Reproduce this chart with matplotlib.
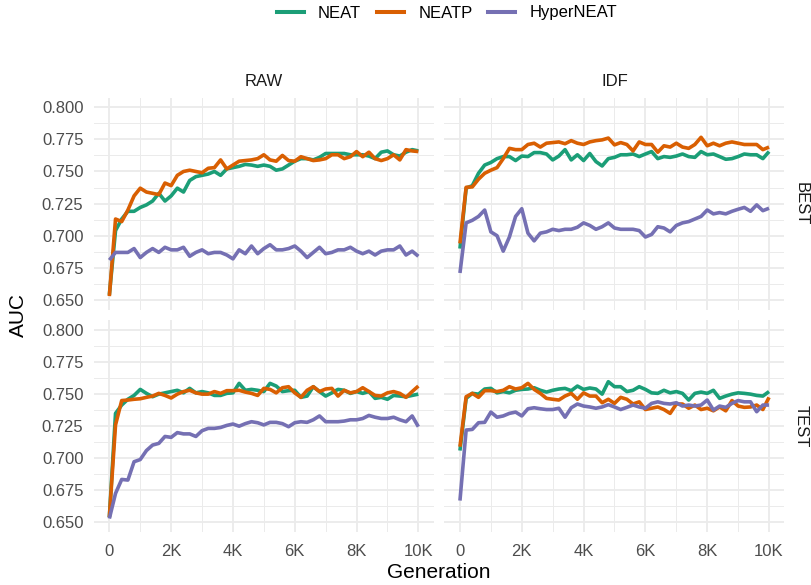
import matplotlib
matplotlib.use("Agg")
import matplotlib.pyplot as plt
from matplotlib.ticker import MultipleLocator, FuncFormatter
from matplotlib.lines import Line2D

plt.rcParams['font.family'] = ['Liberation Sans', 'DejaVu Sans']

generation = list(range(0, 10001, 200))
methods = ["NEAT", "NEATP", "HyperNEAT"]
colors = ["#1B9E77", "#D95F02", "#7570B3"]
columns = ["RAW", "IDF"]
rows = ["BEST", "TEST"]

raw_best_neat = [
    0.654, 0.704, 0.713, 0.719, 0.719, 0.722, 0.724, 0.727, 0.733, 0.727,
    0.731, 0.737, 0.734, 0.743, 0.746, 0.747, 0.748, 0.750, 0.747, 0.752,
    0.753, 0.754, 0.7555, 0.755, 0.754, 0.755, 0.754, 0.751, 0.752, 0.755,
    0.758, 0.760, 0.760, 0.759, 0.761, 0.764, 0.764, 0.764, 0.764, 0.763,
    0.763, 0.763, 0.762, 0.760, 0.765, 0.766, 0.763, 0.762, 0.765, 0.767,
    0.766]
raw_best_neatp = [
    0.653, 0.713, 0.711, 0.720, 0.731, 0.737, 0.734, 0.733, 0.732, 0.741,
    0.739, 0.747, 0.750, 0.751, 0.750, 0.749, 0.7525, 0.753, 0.759, 0.752,
    0.755, 0.758, 0.7585, 0.759, 0.760, 0.763, 0.759, 0.758, 0.7625, 0.7585,
    0.758, 0.7615, 0.760, 0.7585, 0.759, 0.760, 0.763, 0.763, 0.760, 0.7615,
    0.7655, 0.7615, 0.765, 0.760, 0.7585, 0.760, 0.763, 0.759, 0.767, 0.766,
    0.7655]
raw_best_hyper = [
    0.681, 0.687, 0.687, 0.687, 0.690, 0.683, 0.687, 0.690, 0.687, 0.691,
    0.689, 0.689, 0.691, 0.684, 0.687, 0.689, 0.686, 0.687, 0.687, 0.685,
    0.682, 0.689, 0.686, 0.692, 0.686, 0.690, 0.693, 0.689, 0.689, 0.690,
    0.692, 0.688, 0.683, 0.687, 0.691, 0.686, 0.687, 0.689, 0.689, 0.691,
    0.688, 0.686, 0.688, 0.685, 0.688, 0.689, 0.689, 0.692, 0.685, 0.688,
    0.684]

idf_best_neat = [
    0.690, 0.737, 0.739, 0.7486, 0.755, 0.757, 0.760, 0.7616, 0.7616, 0.7585,
    0.762, 0.7616, 0.7647, 0.7647, 0.7636, 0.759, 0.762, 0.767, 0.759, 0.763,
    0.7585, 0.764, 0.7577, 0.7543, 0.760, 0.761, 0.763, 0.763, 0.7636, 0.7616,
    0.7636, 0.7655, 0.760, 0.7616, 0.761, 0.762, 0.7636, 0.7616, 0.761, 0.7655,
    0.763, 0.7636, 0.7616, 0.7595, 0.760, 0.7616, 0.7636, 0.763, 0.763, 0.760,
    0.7655]
idf_best_neatp = [
    0.694, 0.7377, 0.738, 0.744, 0.7486, 0.751, 0.753, 0.760, 0.768, 0.767,
    0.767, 0.771, 0.772, 0.769, 0.772, 0.7725, 0.773, 0.7716, 0.774, 0.772,
    0.771, 0.773, 0.774, 0.7746, 0.776, 0.7707, 0.7725, 0.771, 0.766, 0.773,
    0.771, 0.771, 0.765, 0.770, 0.769, 0.772, 0.769, 0.768, 0.771, 0.7766,
    0.770, 0.772, 0.770, 0.772, 0.773, 0.772, 0.771, 0.771, 0.771, 0.767,
    0.769]
idf_best_hyper = [
    0.671, 0.710, 0.712, 0.715, 0.720, 0.703, 0.700, 0.688, 0.699, 0.715,
    0.721, 0.702, 0.696, 0.702, 0.703, 0.705, 0.704, 0.705, 0.705, 0.7066,
    0.710, 0.708, 0.705, 0.707, 0.710, 0.706, 0.705, 0.705, 0.705, 0.704,
    0.699, 0.701, 0.707, 0.706, 0.703, 0.708, 0.710, 0.711, 0.713, 0.715,
    0.720, 0.717, 0.718, 0.717, 0.719, 0.7206, 0.722, 0.719, 0.724, 0.7195,
    0.7214]

raw_test_neat = [
    0.654, 0.735, 0.7415, 0.746, 0.749, 0.7537, 0.7506, 0.748, 0.750, 0.751,
    0.752, 0.753, 0.751, 0.7545, 0.751, 0.752, 0.751, 0.749, 0.749, 0.7506,
    0.751, 0.7584, 0.753, 0.7537, 0.753, 0.752, 0.7584, 0.7563, 0.752, 0.7527,
    0.753, 0.7475, 0.7485, 0.7558, 0.752, 0.7485, 0.751, 0.7537, 0.753, 0.7506,
    0.752, 0.7506, 0.752, 0.7467, 0.7475, 0.746, 0.749, 0.7485, 0.748, 0.749,
    0.750]
raw_test_neatp = [
    0.654, 0.726, 0.745, 0.7454, 0.746, 0.7464, 0.7475, 0.7485, 0.7506, 0.749,
    0.747, 0.750, 0.752, 0.753, 0.751, 0.750, 0.750, 0.752, 0.7506, 0.7527,
    0.7527, 0.753, 0.7516, 0.7506, 0.749, 0.7545, 0.7537, 0.751, 0.755, 0.7558,
    0.751, 0.7475, 0.753, 0.7558, 0.752, 0.754, 0.7545, 0.7485, 0.753, 0.751,
    0.752, 0.755, 0.752, 0.749, 0.7485, 0.751, 0.752, 0.7506, 0.7475, 0.752,
    0.7563]
raw_test_hyper = [
    0.653, 0.6726, 0.6835, 0.683, 0.6973, 0.699, 0.706, 0.7103, 0.7116, 0.717,
    0.7163, 0.720, 0.719, 0.719, 0.717, 0.7215, 0.7233, 0.7233, 0.724, 0.7256,
    0.7267, 0.725, 0.727, 0.7285, 0.7277, 0.726, 0.728, 0.728, 0.727, 0.7246,
    0.7277, 0.7285, 0.728, 0.730, 0.733, 0.7285, 0.7285, 0.7285, 0.729, 0.730,
    0.730, 0.731, 0.7334, 0.732, 0.731, 0.731, 0.732, 0.730, 0.7285, 0.733,
    0.7246]

idf_test_neat = [
    0.706, 0.7467, 0.7506, 0.750, 0.754, 0.7545, 0.751, 0.752, 0.751, 0.753,
    0.7537, 0.754, 0.755, 0.753, 0.7516, 0.753, 0.754, 0.7545, 0.7527, 0.7563,
    0.7537, 0.7548, 0.754, 0.750, 0.7597, 0.7558, 0.7558, 0.752, 0.753, 0.7558,
    0.7537, 0.751, 0.7506, 0.753, 0.751, 0.752, 0.7506, 0.7454, 0.7506, 0.7516,
    0.7506, 0.753, 0.7467, 0.7485, 0.750, 0.751, 0.7506, 0.750, 0.749, 0.7485,
    0.752]
idf_test_neatp = [
    0.709, 0.748, 0.7506, 0.7475, 0.7527, 0.7527, 0.752, 0.753, 0.7558, 0.754,
    0.755, 0.7584, 0.7537, 0.7506, 0.7467, 0.746, 0.7454, 0.7485, 0.7506, 0.746,
    0.751, 0.7485, 0.7485, 0.7433, 0.746, 0.7428, 0.7475, 0.746, 0.7423, 0.744,
    0.738, 0.739, 0.740, 0.738, 0.735, 0.7423, 0.7423, 0.739, 0.7415, 0.738,
    0.739, 0.737, 0.740, 0.737, 0.745, 0.7407, 0.7397, 0.740, 0.7415, 0.738,
    0.7475]
idf_test_hyper = [
    0.667, 0.722, 0.7225, 0.7277, 0.728, 0.736, 0.732, 0.733, 0.735, 0.736,
    0.733, 0.7386, 0.7394, 0.7386, 0.738, 0.738, 0.739, 0.732, 0.7394, 0.7423,
    0.7407, 0.740, 0.739, 0.740, 0.7418, 0.740, 0.738, 0.7397, 0.7415, 0.740,
    0.739, 0.7428, 0.744, 0.7428, 0.7423, 0.7433, 0.7407, 0.7415, 0.7407, 0.7415,
    0.7454, 0.7376, 0.7407, 0.7397, 0.7428, 0.745, 0.744, 0.744, 0.7363, 0.7415,
    0.7415]

panels = {
    ("BEST", "RAW"): [raw_best_neat, raw_best_neatp, raw_best_hyper],
    ("BEST", "IDF"): [idf_best_neat, idf_best_neatp, idf_best_hyper],
    ("TEST", "RAW"): [raw_test_neat, raw_test_neatp, raw_test_hyper],
    ("TEST", "IDF"): [idf_test_neat, idf_test_neatp, idf_test_hyper],
}

W, H = 812, 585
fig = plt.figure(figsize=(W / 100, H / 100), dpi=100)
fig.patch.set_facecolor("white")

def rect(x0, y0, x1, y1):
    return [x0 / W, 1 - y1 / H, (x1 - x0) / W, (y1 - y0) / H]

col_x = [(93.9, 433.8), (444.5, 784.5)]
row_y = [(97.6, 309.6), (320.4, 532.0)]
grid_col = "#EBEBEB"

for ri, r in enumerate(rows):
    for ci, c in enumerate(columns):
        x0, x1 = col_x[ci]
        y0, y1 = row_y[ri]
        ax = fig.add_axes(rect(x0, y0, x1, y1))
        ax.set_facecolor("white")
        for s in ax.spines.values():
            s.set_visible(False)
        ax.set_xlim(-500, 10500)
        ax.set_ylim(0.6425, 0.8075)
        ax.xaxis.set_major_locator(MultipleLocator(2000))
        ax.xaxis.set_minor_locator(MultipleLocator(1000))
        ax.yaxis.set_major_locator(MultipleLocator(0.025))
        ax.yaxis.set_minor_locator(MultipleLocator(0.0125))
        ax.grid(which="major", color=grid_col, linewidth=1.3)
        ax.grid(which="minor", color=grid_col, linewidth=0.7)
        ax.set_axisbelow(True)
        ax.tick_params(which="both", length=0)
        ax.tick_params(axis="y", labelsize=12, labelcolor="#4D4D4D", pad=7.5)
        ax.tick_params(axis="x", labelsize=12, labelcolor="#4D4D4D", pad=9)
        ax.yaxis.set_major_formatter(FuncFormatter(lambda v, p: f"{v:.3f}"))
        ax.xaxis.set_major_formatter(
            FuncFormatter(lambda v, p: "0" if v == 0 else f"{int(v / 1000)}K"))
        if ci != 0:
            ax.tick_params(axis="y", labelleft=False)
        if ri != len(rows) - 1:
            ax.tick_params(axis="x", labelbottom=False)
        for series, col in zip(panels[(r, c)], colors):
            ax.plot(generation, series, color=col, linewidth=2.6,
                    solid_joinstyle="round", solid_capstyle="butt")
        if ri == 0:
            fig.text(((x0 + x1) / 2) / W, 1 - 81 / H, c, ha="center",
                     va="center", fontsize=12, color="#1A1A1A")
        if ci == len(columns) - 1:
            fig.text(801 / W, 1 - ((y0 + y1) / 2) / H, r, ha="center",
                     va="center", fontsize=12, color="#1A1A1A", rotation=-90)

fig.text(18 / W, 1 - 315 / H, "AUC", rotation=90, ha="center", va="center",
         fontsize=15, color="black")
fig.text(439 / W, 1 - 573 / H, "Generation", ha="center", va="center",
         fontsize=15, color="black")

handles = [Line2D([0], [0], color=col, linewidth=2.9) for col in colors]
fig.legend(handles, methods, loc="center", bbox_to_anchor=(447 / W, 1 - 13 / H),
           ncol=3, frameon=False, fontsize=12, handlelength=1.62,
           handletextpad=0.85, columnspacing=0.95, borderaxespad=0)

fig.savefig("out.png", dpi=100, facecolor="white")
